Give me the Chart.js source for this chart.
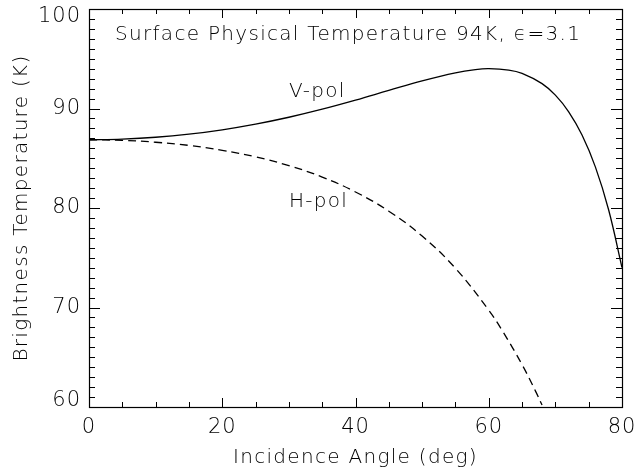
<!DOCTYPE html>
<html>
<head>
<meta charset="utf-8">
<script src="https://cdn.jsdelivr.net/npm/chart.js@4/dist/chart.umd.min.js"></script>
<style>
  html, body { margin: 0; padding: 0; background: #fff; }
  #wrap { width: 637px; height: 470px; }
</style>
</head>
<body>
<div id="wrap"><canvas id="tbChart" width="637" height="470"></canvas></div>
<script>
// values
const vAngles = [0, 5, 10, 15, 20, 25, 30, 35, 40, 45, 50, 55, 58, 60, 63, 65, 68, 70, 72, 74, 76, 78, 80];
const vTemps  = [86.86, 86.93, 87.11, 87.42, 87.86, 88.43, 89.12, 89.93, 90.84, 91.82, 92.78, 93.59,
                 93.91, 94.00, 93.86, 93.53, 92.50, 91.34, 89.67, 87.33, 84.13, 79.80, 74.01];

const hAngles = [0, 5, 10, 15, 20, 25, 30, 35, 40, 45, 50, 55, 60, 62, 65, 67, 68];
const hTemps  = [86.86, 86.80, 86.61, 86.29, 85.80, 85.14, 84.26, 83.11, 81.61, 79.68, 77.18, 73.94,
                 69.73, 67.71, 64.26, 61.62, 60.20];

const xMajor = [0, 20, 40, 60, 80];
const xMinor = [5, 10, 15, 25, 30, 35, 45, 50, 55, 65, 70, 75];
const yMajor = [60, 70, 80, 90, 100];
const yMinor = [61, 62, 63, 64, 65, 66, 67, 68, 69, 71, 72, 73, 74, 75, 76, 77, 78, 79,
                81, 82, 83, 84, 85, 86, 87, 88, 89, 91, 92, 93, 94, 95, 96, 97, 98, 99];

const titleText = 'Surface Physical Temperature 94K, \u03F5=3.1';
const xTitle = 'Incidence Angle (deg)';
const yTitle = 'Brightness Temperature (K)';
const labels = [
  { text: 'V-pol', x: 30.0, y: 91.7 },
  { text: 'H-pol', x: 30.0, y: 80.6 }
];

const FONT = "200 {s}px 'DejaVu Sans', sans-serif";
const font = s => FONT.replace('{s}', s);

const toPts = (xs, ys) => xs.map((a, i) => ({ x: a, y: ys[i] }));

// axis box, inward ticks, labels and titles (IDL style)
const idlAxes = {
  id: 'idlAxes',
  afterDraw(chart) {
    const { ctx, chartArea: a, scales: { x, y } } = chart;
    ctx.save();
    ctx.strokeStyle = '#000';
    ctx.lineWidth = 1.2;
    ctx.strokeRect(Math.round(a.left) + 0.5, Math.round(a.top) + 0.5,
                   Math.round(a.right - a.left), Math.round(a.bottom - a.top));

    ctx.lineWidth = 1;
    ctx.beginPath();
    const xt = (v, len) => {
      const px = Math.round(x.getPixelForValue(v)) + 0.5;
      ctx.moveTo(px, a.bottom); ctx.lineTo(px, a.bottom - len);
      ctx.moveTo(px, a.top); ctx.lineTo(px, a.top + len);
    };
    const yt = (v, len) => {
      const py = Math.round(y.getPixelForValue(v)) + 0.5;
      ctx.moveTo(a.left, py); ctx.lineTo(a.left + len, py);
      ctx.moveTo(a.right, py); ctx.lineTo(a.right - len, py);
    };
    xMajor.forEach(v => xt(v, 9));
    xMinor.forEach(v => xt(v, 5));
    yMajor.forEach(v => yt(v, 11));
    yMinor.forEach(v => yt(v, 6));
    ctx.stroke();

    ctx.fillStyle = '#000';
    ctx.font = font(21);
    ctx.letterSpacing = '1px';
    ctx.textAlign = 'center';
    ctx.textBaseline = 'middle';
    xMajor.forEach(v => ctx.fillText(String(v), x.getPixelForValue(v), a.bottom + 21));

    ctx.textAlign = 'right';
    yMajor.forEach(v => {
      let py = y.getPixelForValue(v);
      // keep end labels inside the axis range, as in the original
      py = Math.min(Math.max(py, a.top + 8), a.bottom - 6);
      ctx.fillText(String(v), a.left - 8, py);
    });

    ctx.font = font(20);
    ctx.letterSpacing = '1.3px';
    ctx.textAlign = 'center';
    ctx.fillText(xTitle, (a.left + a.right) / 2, a.bottom + 51);
    ctx.save();
    ctx.translate(22, (a.top + a.bottom) / 2);
    ctx.rotate(-Math.PI / 2);
    ctx.fillText(yTitle, 0, 0);
    ctx.restore();

    ctx.textAlign = 'left';
    ctx.fillText(titleText, a.left + 26, a.top + 26);
    labels.forEach(l => ctx.fillText(l.text, x.getPixelForValue(l.x), y.getPixelForValue(l.y)));
    ctx.restore();
  }
};

const ctx = document.getElementById('tbChart').getContext('2d');
new Chart(ctx, {
  type: 'line',
  data: {
    datasets: [
      {
        label: 'V-pol',
        data: toPts(vAngles, vTemps),
        borderColor: '#000',
        borderWidth: 1.3,
        pointRadius: 0,
        tension: 0.4,
        fill: false
      },
      {
        label: 'H-pol',
        data: toPts(hAngles, hTemps),
        borderColor: '#000',
        borderWidth: 1.3,
        borderDash: [8, 5],
        pointRadius: 0,
        tension: 0.4,
        fill: false
      }
    ]
  },
  options: {
    responsive: false,
    animation: false,
    layout: { padding: { left: 89, right: 15, top: 9, bottom: 63 } },
    plugins: { legend: { display: false }, tooltip: { enabled: false } },
    scales: {
      x: { type: 'linear', min: 0, max: 80, display: false },
      y: { type: 'linear', min: 60, max: 100, display: false }
    }
  },
  plugins: [idlAxes]
});
</script>
</body>
</html>
